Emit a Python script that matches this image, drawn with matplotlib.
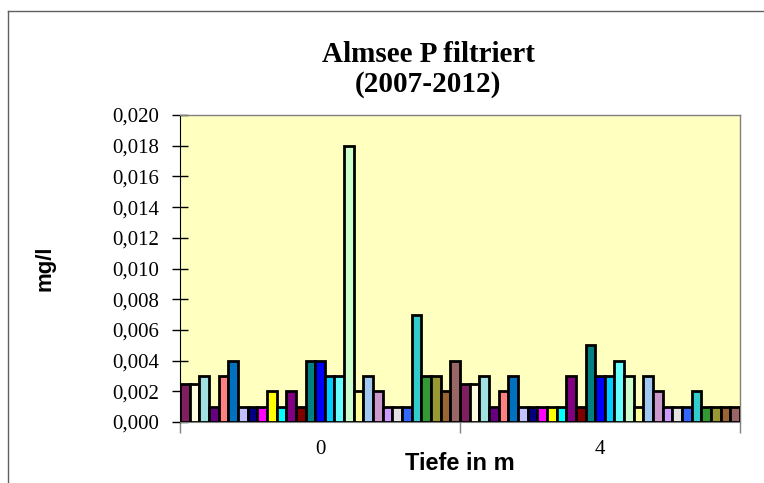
import matplotlib
matplotlib.use("Agg")
import matplotlib.pyplot as plt
import numpy as np
from matplotlib.ticker import FuncFormatter, FixedLocator

# depths (categories)
depths = ["0", "4"]

# one value per series (29 sampling dates), depth 0 m and depth 4 m
vals_0m = [0.0025, 0.0025, 0.003, 0.001, 0.003, 0.004, 0.001, 0.001, 0.001, 0.002,
           0.001, 0.002, 0.001, 0.004, 0.004, 0.003, 0.003, 0.018, 0.002, 0.003,
           0.002, 0.001, 0.001, 0.001, 0.007, 0.003, 0.003, 0.002, 0.004]
vals_4m = [0.0025, 0.0025, 0.003, 0.001, 0.002, 0.003, 0.001, 0.001, 0.001, 0.001,
           0.001, 0.003, 0.001, 0.005, 0.003, 0.003, 0.004, 0.003, 0.001, 0.003,
           0.002, 0.001, 0.001, 0.001, 0.002, 0.001, 0.001, 0.001, 0.001]

series_colors = ["#7F1F5F", "#FFFFE0", "#A0E0E0", "#660080", "#FF8080", "#0070C0",
                 "#C0C0FF", "#000080", "#FF00FF", "#FFFF00", "#00FFFF", "#800080",
                 "#800000", "#008080", "#0000FF", "#00CCFF", "#66FFFF", "#CCFFCC",
                 "#FFFF99", "#A0C8F0", "#CC99CC", "#CC99FF", "#E3E3E3", "#3366FF",
                 "#33CCCC", "#339933", "#999933", "#996633", "#996666"]

W, H = 764, 483
fig = plt.figure(figsize=(W / 100, H / 100), dpi=100)
ax = fig.add_axes([180 / W, 61 / H, 560 / W, 307 / H])
ax.set_facecolor("#FFFFC0")

n = len(vals_0m)
w = 1.0 / n
x = np.arange(len(depths))
for j in range(n):
    pos = x - 0.5 + (j + 0.5) * w
    ax.bar(pos, [vals_0m[j], vals_4m[j]], width=w, color=series_colors[j],
           edgecolor="black", linewidth=2.0, zorder=3)

ax.set_xlim(-0.5, 1.5)
ax.set_ylim(0, 0.020)
ax.set_yticks(np.arange(0, 0.0201, 0.002))
ax.yaxis.set_major_formatter(FuncFormatter(lambda v, p: f"{v:.3f}".replace(".", ",")))
ax.tick_params(axis="y", direction="inout", length=12, width=1, labelsize=15,
               pad=9)
for t in ax.get_yticklabels():
    t.set_fontfamily("Liberation Serif")

ax.set_xticks(x)
ax.set_xticklabels(depths, fontfamily="Liberation Serif", fontsize=15)
ax.tick_params(axis="x", length=0, pad=13)
ax.xaxis.set_minor_locator(FixedLocator([-0.5, 0.5, 1.5]))
ax.tick_params(axis="x", which="minor", length=8, width=1, color="#808080")

for s in ["top", "right"]:
    ax.spines[s].set_color("#808080")
    ax.spines[s].set_linewidth(1)
ax.spines["left"].set_color("black")
ax.spines["bottom"].set_color("#808080")

# axis titles
fig.text(460 / W, 1 - 470 / H, "Tiefe in m", ha="center", va="baseline",
         fontfamily="Liberation Sans", fontweight="bold", fontsize=17)
fig.text(45 / W, 1 - 268 / H, "mg/l", ha="center", va="center", rotation=90,
         fontfamily="Liberation Sans", fontweight="bold", fontsize=16)

# chart title
fig.text(428 / W, 1 - 62 / H, "Almsee P filtriert", ha="center", va="baseline",
         fontfamily="Liberation Serif", fontweight="bold", fontsize=21)
fig.text(428 / W, 1 - 92 / H, "(2007-2012)", ha="center", va="baseline",
         fontfamily="Liberation Serif", fontweight="bold", fontsize=21)

# chart area border (left and top visible)
fig.add_artist(plt.Line2D([8 / W, 8 / W], [0, 1 - 11 / H], color="#606060",
                          lw=1, transform=fig.transFigure))
fig.add_artist(plt.Line2D([8 / W, 1], [1 - 11 / H, 1 - 11 / H], color="#606060",
                          lw=1, transform=fig.transFigure))

fig.savefig("out.png", dpi=100)
